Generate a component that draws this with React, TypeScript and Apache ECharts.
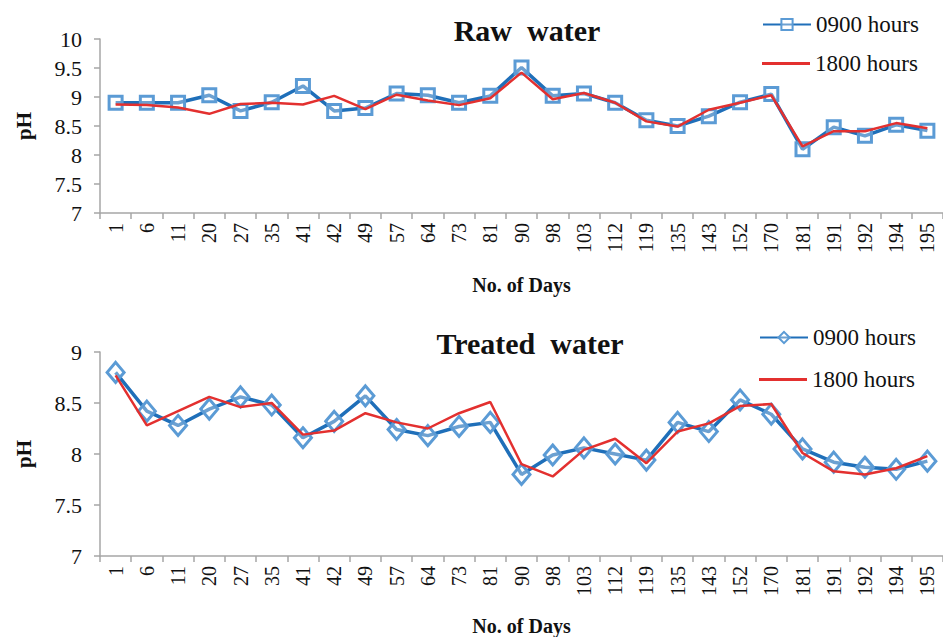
import React, { useEffect, useRef } from "react";
import * as echarts from "echarts";

const days = ["1","6","11","20","27","35","41","42","49","57","64","73","81","90","98","103","112","119","135","143","152","170","181","191","192","194","195"];

const raw0900 = [8.9,8.9,8.9,9.03,8.76,8.91,9.19,8.76,8.81,9.06,9.03,8.9,9.02,9.51,9.02,9.06,8.9,8.6,8.5,8.67,8.91,9.05,8.1,8.48,8.33,8.52,8.42];
const raw1800 = [8.87,8.86,8.82,8.71,8.88,8.9,8.87,9.02,8.79,9.04,8.94,8.86,8.98,9.42,8.96,9.07,8.9,8.58,8.49,8.78,8.9,9.03,8.15,8.41,8.41,8.55,8.46];
const treated0900 = [8.8,8.42,8.28,8.44,8.56,8.48,8.16,8.32,8.57,8.24,8.18,8.27,8.31,7.8,7.99,8.06,8.0,7.94,8.31,8.22,8.53,8.39,8.05,7.92,7.87,7.85,7.93];
const treated1800 = [8.77,8.28,8.42,8.56,8.46,8.5,8.19,8.23,8.4,8.31,8.25,8.4,8.51,7.9,7.78,8.04,8.15,7.91,8.22,8.3,8.47,8.49,8.01,7.83,7.8,7.86,7.98];

const rawTicks = { min: 7, max: 10, interval: 0.5 };
const treatedTicks = { min: 7, max: 9, interval: 0.5 };

const legendNames: Record<string, string> = {
  r09: "0900 hours",
  r18: "1800 hours",
  t09: "0900 hours",
  t18: "1800 hours",
};

const FONT = "Liberation Serif";
const AXIS = "#a6a6a6";
const BLUE = "#1f6fb9";
const BLUE_M = "#5b9bd5";
const RED = "#e3302f";

export default function App() {
  const ref = useRef<HTMLDivElement>(null);
  useEffect(() => {
    document.body.style.margin = "0";
    if (!ref.current) return;
    const chart = echarts.init(ref.current, undefined, { renderer: "svg" });

    const xAxis = (gi: number) => ({
      type: "category",
      gridIndex: gi,
      data: days,
      boundaryGap: true,
      axisLine: { show: true, lineStyle: { color: AXIS, width: 1.5 } },
      axisTick: { show: true, length: 6, alignWithLabel: false, lineStyle: { color: AXIS, width: 1.5 } },
      axisLabel: { rotate: 90, fontFamily: FONT, fontSize: 20, color: "#111", margin: 10, interval: 0 },
      name: "No. of Days",
      nameLocation: "middle",
      nameGap: gi === 0 ? 62 : 60,
      nameTextStyle: { fontFamily: FONT, fontSize: 20, fontWeight: "bold", color: "#111" },
      splitLine: { show: false },
    });
    const yAxis = (gi: number, t: { min: number; max: number; interval: number }) => ({
      type: "value",
      gridIndex: gi,
      min: t.min,
      max: t.max,
      interval: t.interval,
      axisLine: { show: true, lineStyle: { color: AXIS, width: 1.5 } },
      axisTick: { show: true, length: 6, lineStyle: { color: AXIS, width: 1.5 } },
      axisLabel: { fontFamily: FONT, fontSize: 22, color: "#111", margin: 18 },
      splitLine: { show: false },
      name: "pH",
      nameLocation: "middle",
      nameGap: 66,
      nameRotate: 90,
      nameTextStyle: { fontFamily: FONT, fontSize: 21, fontWeight: "bold", color: "#111" },
    });

    const blueSeries = (name: string, gi: number, data: number[], symbol: string, size: number | number[]) => ({
      name,
      type: "line",
      xAxisIndex: gi,
      yAxisIndex: gi,
      data,
      symbol,
      symbolSize: size,
      showAllSymbol: true,
      lineStyle: { color: BLUE, width: 3.5 },
      itemStyle: { color: "rgba(255,255,255,0.35)", borderColor: BLUE_M, borderWidth: 3 },
      z: 2,
    });
    const redSeries = (name: string, gi: number, data: number[]) => ({
      name,
      type: "line",
      xAxisIndex: gi,
      yAxisIndex: gi,
      data,
      symbol: "none",
      lineStyle: { color: RED, width: 2.5 },
      itemStyle: { color: RED },
      z: 3,
    });

    const legendBase = {
      orient: "vertical",
      padding: 0,
      itemWidth: 48,
      itemHeight: 14,
      selectedMode: false,
      textStyle: { fontFamily: FONT, fontSize: 23, color: "#111" },
      formatter: (n: string) => legendNames[n] || n,
    };

    chart.setOption({
      animation: false,
      backgroundColor: "#fff",
      title: [
        {
          text: "Raw  water",
          left: 522,
          top: 10,
          textAlign: "center",
          textStyle: { fontFamily: FONT, fontSize: 30, fontWeight: "bold", color: "#111" },
        },
        {
          text: "Treated  water",
          left: 525,
          top: 323,
          textAlign: "center",
          textStyle: { fontFamily: FONT, fontSize: 30, fontWeight: "bold", color: "#111" },
        },
      ],
      legend: [
        { ...legendBase, data: ["r09"], left: 762, top: 13 },
        { ...legendBase, data: [{ name: "r18", icon: "rect" }], left: 762, top: 52, itemHeight: 3 },
        { ...legendBase, data: ["t09"], left: 759, top: 326 },
        { ...legendBase, data: [{ name: "t18", icon: "rect" }], left: 759, top: 368, itemHeight: 3 },
      ],
      grid: [
        { left: 100, right: 0, top: 39, height: 174, containLabel: false },
        { left: 100, right: 0, top: 352, height: 204, containLabel: false },
      ],
      xAxis: [xAxis(0), xAxis(1)],
      yAxis: [yAxis(0, rawTicks), yAxis(1, treatedTicks)],
      series: [
        blueSeries("r09", 0, raw0900, "rect", 13),
        redSeries("r18", 0, raw1800),
        blueSeries("t09", 1, treated0900, "diamond", [17, 20]),
        redSeries("t18", 1, treated1800),
      ],
    });
    return () => chart.dispose();
  }, []);
  return <div ref={ref} style={{ width: 943, height: 637 }} />;
}
